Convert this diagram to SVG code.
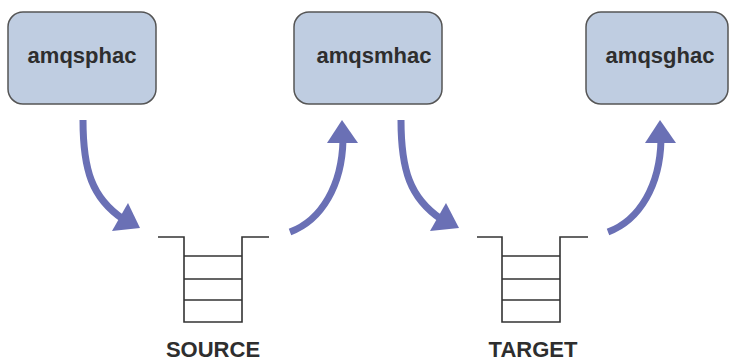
<svg xmlns="http://www.w3.org/2000/svg" width="730" height="363" viewBox="0 0 730 363">
<style>
.box{fill:#bfcde1;stroke:#555;stroke-width:1.5}
.lbl{font-family:"Liberation Sans",Arial,sans-serif;font-weight:bold;font-size:22px;fill:#2e2e2e;text-anchor:middle}
.q{fill:none;stroke:#333;stroke-width:1.6}
.shaft{fill:none;stroke:#6a70b5;stroke-width:7}
.head{fill:#6a70b5}
</style>
<rect width="730" height="363" fill="#fff"/>
<g id="amqsphac"><rect class="box" x="8" y="12" width="148" height="92" rx="15"/><text class="lbl" x="82" y="63">amqsphac</text></g>
<g id="amqsmhac"><rect class="box" x="294" y="12" width="148" height="92" rx="15"/><text class="lbl" x="374" y="63">amqsmhac</text></g>
<g id="amqsghac"><rect class="box" x="586" y="12" width="142" height="92" rx="15"/><text class="lbl" x="660" y="63">amqsghac</text></g>
<g id="source">
<path class="q" d="M158,237 H184 V322 H242 V237 H269 M184,256 H242 M184,279 H242 M184,300 H242"/>
<text class="lbl" x="213" y="357" font-size="21">SOURCE</text>
</g>
<g id="target">
<path class="q" d="M477,237 H502 V322 H560 V237 H588 M502,256 H560 M502,279 H560 M502,300 H560"/>
<text class="lbl" x="533" y="357" font-size="21">TARGET</text>
</g>
<g id="connectors">
<path class="shaft" d="M83,120 C83,170 92,198 123,219"/>
<polygon class="head" points="112,231 140,228 128,203"/>
<path class="shaft" d="M290,232 C322,220 342,185 343,140"/>
<polygon class="head" points="327,143 342,120 358,143"/>
<path class="shaft" d="M401,120 C401,170 410,198 441,219"/>
<polygon class="head" points="430,231 459,228 446,203"/>
<path class="shaft" d="M608,232 C640,220 660,185 661,140"/>
<polygon class="head" points="645,143 660,120 676,143"/>
</g>
</svg>
